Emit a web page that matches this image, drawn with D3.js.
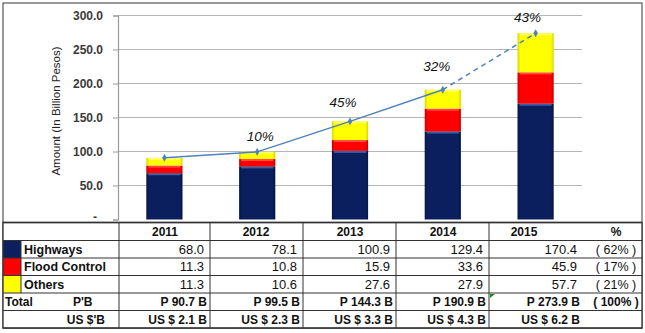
<!DOCTYPE html>
<html><head><meta charset="utf-8">
<script src="https://cdn.jsdelivr.net/npm/d3@7/dist/d3.min.js"></script>
<style>
html,body{margin:0;padding:0;background:#fff;}
svg{display:block;font-family:"Liberation Sans",Arial,sans-serif;}
</style></head>
<body>
<script>
// ---- data ----
const years = ["2011","2012","2013","2014","2015"];
const highways = [68.0, 78.1, 100.9, 129.4, 170.4];
const floodControl = [11.3, 10.8, 15.9, 33.6, 45.9];
const others = [11.3, 10.6, 27.6, 27.9, 57.7];
const totalsPeso = [90.7, 99.5, 144.3, 190.9, 273.9];
const totalsUsd = [2.1, 2.3, 3.3, 4.3, 6.2];
const growth = ["", "10%", "45%", "32%", "43%"];
const seriesNames = ["Highways", "Flood Control", "Others"];
const shares = ["( 62% )", "( 17% )", "( 21% )"];
const totalShare = "( 100% )";
const yTicks = [0, 50, 100, 150, 200, 250, 300];

// ---- layout ----
const W = 645, H = 333;
const svg = d3.select("body").append("svg").attr("width", W).attr("height", H);
const defs = svg.append("defs");

const x = d3.scaleBand().domain(years).range([118, 582]).paddingInner(0.61).paddingOuter(0.305);
const y = d3.scaleLinear().domain([0, 300]).range([219.5, 15.5]);

const colors = ["#0b1f5e", "#ff0000", "#ffff00"];
const edgeColors = ["#061545", "#c80000", "#d6d600"];
const hiColors = ["#4a6fb5", "#ff5a5a", "#ffff80"];
colors.forEach((c, i) => {
  const g = defs.append("linearGradient").attr("id", "g" + i).attr("x1", 0).attr("x2", 1).attr("y1", 0).attr("y2", 0);
  g.append("stop").attr("offset", "0%").attr("stop-color", edgeColors[i]);
  g.append("stop").attr("offset", "8%").attr("stop-color", c);
  g.append("stop").attr("offset", "92%").attr("stop-color", c);
  g.append("stop").attr("offset", "100%").attr("stop-color", edgeColors[i]);
});

// outer frame
svg.append("rect").attr("x", 3).attr("y", 3).attr("width", 639).attr("height", 325)
  .attr("fill", "none").attr("stroke", "#555").attr("stroke-width", 1.2);

// gridlines
svg.append("g").selectAll("line").data(yTicks.filter(d => d > 0)).join("line")
  .attr("x1", 118).attr("x2", 582).attr("y1", d => y(d)).attr("y2", d => y(d))
  .attr("stroke", "#b5b5b5").attr("stroke-width", 1.2);

// y axis
const yAxis = d3.axisLeft(y).tickValues(yTicks).tickSize(5).tickPadding(10)
  .tickFormat(d => d === 0 ? "-" : d3.format(".1f")(d));
const ga = svg.append("g").attr("transform", "translate(118,0)").call(yAxis);
ga.select(".domain").attr("stroke", "#999").attr("stroke-width", 1.2);
ga.selectAll(".tick line").attr("stroke", "#999");
ga.selectAll(".tick text").attr("font-size", 12).attr("font-weight", "bold").attr("fill", "#3a3a3a")
  .attr("font-family", "'Liberation Sans',Arial,sans-serif");
ga.selectAll(".tick").filter(d => d === 0).select("text").attr("dx", -6).attr("dy", "0.1em");

svg.append("text").attr("transform", "translate(60,111) rotate(-90)")
  .attr("text-anchor", "middle").attr("font-size", 11.5).attr("fill", "#222")
  .text("Amount (In Billion Pesos)");

// stacked bars
const rows = years.map((yr, i) => ({ year: yr, v0: highways[i], v1: floodControl[i], v2: others[i] }));
const stack = d3.stack().keys(["v0", "v1", "v2"])(rows);
const gb = svg.append("g");
stack.forEach((layer, li) => {
  gb.append("g").selectAll("rect").data(layer).join("rect")
    .attr("x", d => x(d.data.year)).attr("width", x.bandwidth())
    .attr("y", d => y(d[1])).attr("height", d => y(d[0]) - y(d[1]))
    .attr("fill", `url(#g${li})`);
  gb.append("g").selectAll("rect").data(layer).join("rect")
    .attr("x", d => x(d.data.year) + 2).attr("width", x.bandwidth() - 4)
    .attr("y", d => y(d[1])).attr("height", 2)
    .attr("fill", hiColors[li]).attr("opacity", 0.8);
});

// trend line
const pts = years.map((yr, i) => [x(yr) + x.bandwidth() / 2, y(totalsPeso[i])]);
const lineGen = d3.line();
svg.append("path").attr("d", lineGen(pts.slice(0, 4))).attr("fill", "none")
  .attr("stroke", "#4f81bd").attr("stroke-width", 1.5);
svg.append("path").attr("d", lineGen(pts.slice(3))).attr("fill", "none")
  .attr("stroke", "#4f81bd").attr("stroke-width", 1.5).attr("stroke-dasharray", "5,4");
svg.append("g").selectAll("path").data(pts).join("path")
  .attr("d", d3.symbol().type(d3.symbolDiamond).size(18))
  .attr("transform", d => `translate(${d[0]},${d[1]})`).attr("fill", "#4f81bd");
svg.append("g").selectAll("text").data(pts).join("text")
  .attr("x", (d, i) => d[0] + [0, 3, -7, -6, -8][i])
  .attr("y", (d, i) => d[1] - [0, 11, 14, 19, 11][i])
  .attr("text-anchor", "middle").attr("font-size", 13.5).attr("font-style", "italic").attr("fill", "#111")
  .text((d, i) => growth[i]);

// ---- table ----
const rowLines = [222.5, 240.5, 258, 275.5, 293, 310.5, 328];
const colLines = [119, 210, 303, 396, 489];
const colRights = [210, 303, 396, 489, 583];
const headerCenters = [165, 256, 350, 443, 524];
const pctCenter = 616;

svg.append("rect").attr("x", 3).attr("y", 222.5).attr("width", 639).attr("height", 105.5).attr("fill", "#fff");
const tg = svg.append("g").attr("font-size", 12).attr("fill", "#111");

// swatches
colors.forEach((c, i) => {
  tg.append("rect").attr("x", 3).attr("y", rowLines[i + 1]).attr("width", 18).attr("height", rowLines[i + 2] - rowLines[i + 1])
    .attr("fill", c);
});
tg.append("line").attr("x1", 21).attr("x2", 21).attr("y1", rowLines[1]).attr("y2", rowLines[4]).attr("stroke", "#333");
tg.selectAll("line.h").data(rowLines).join("line").attr("class", "h")
  .attr("x1", 3).attr("x2", 642).attr("y1", d => d).attr("y2", d => d).attr("stroke", "#333").attr("stroke-width", (d, i) => i === 0 ? 1.5 : 1);
tg.selectAll("line.v").data(colLines).join("line").attr("class", "v")
  .attr("x1", d => d).attr("x2", d => d).attr("y1", 222.5).attr("y2", 328).attr("stroke", "#333");
tg.append("rect").attr("x", 3).attr("y", 222.5).attr("width", 639).attr("height", 105.5)
  .attr("fill", "none").attr("stroke", "#333").attr("stroke-width", 1.3);

const base = i => rowLines[i] + 13;
// header
tg.selectAll("text.hd").data(years).join("text").attr("class", "hd")
  .attr("x", (d, i) => headerCenters[i]).attr("y", base(0) + 0.5).attr("text-anchor", "middle")
  .attr("font-weight", "bold").text(d => d);
tg.append("text").attr("x", pctCenter).attr("y", base(0) + 0.5).attr("text-anchor", "middle").attr("font-weight", "bold").text("%");
// series rows
const seriesVals = [highways, floodControl, others];
seriesNames.forEach((name, si) => {
  tg.append("text").attr("x", 24).attr("y", base(si + 1)).attr("font-weight", "bold").attr("font-size", 12.5).text(name);
  tg.append("g").selectAll("text").data(seriesVals[si]).join("text")
    .attr("x", (d, i) => colRights[i] - 6).attr("y", base(si + 1)).attr("text-anchor", "end")
    .attr("font-size", 13).text(d => d3.format(".1f")(d));
  tg.append("text").attr("x", pctCenter).attr("y", base(si + 1)).attr("text-anchor", "middle").attr("font-size", 12.5).text(shares[si]);
});
// totals
tg.append("text").attr("x", 5).attr("y", base(4)).attr("font-weight", "bold").text("Total");
tg.append("text").attr("x", 73).attr("y", base(4)).attr("font-weight", "bold").text("P'B");
tg.append("text").attr("x", 105).attr("y", base(5)).attr("text-anchor", "end").attr("font-weight", "bold").text("US $'B");
tg.append("g").selectAll("text").data(totalsPeso).join("text")
  .attr("x", (d, i) => colRights[i] - 3).attr("y", base(4)).attr("text-anchor", "end").attr("font-weight", "bold")
  .text(d => "P " + d3.format(".1f")(d) + " B");
tg.append("g").selectAll("text").data(totalsUsd).join("text")
  .attr("x", (d, i) => colRights[i] - 3).attr("y", base(5)).attr("text-anchor", "end").attr("font-weight", "bold")
  .text(d => "US $ " + d3.format(".1f")(d) + " B");
tg.append("text").attr("x", pctCenter).attr("y", base(4)).attr("text-anchor", "middle").attr("font-weight", "bold").text(totalShare);
// small excel comment marker
tg.append("path").attr("d", "M490,294 L495,294 L490,298 Z").attr("fill", "#1a8a1a");
</script>
</body></html>
